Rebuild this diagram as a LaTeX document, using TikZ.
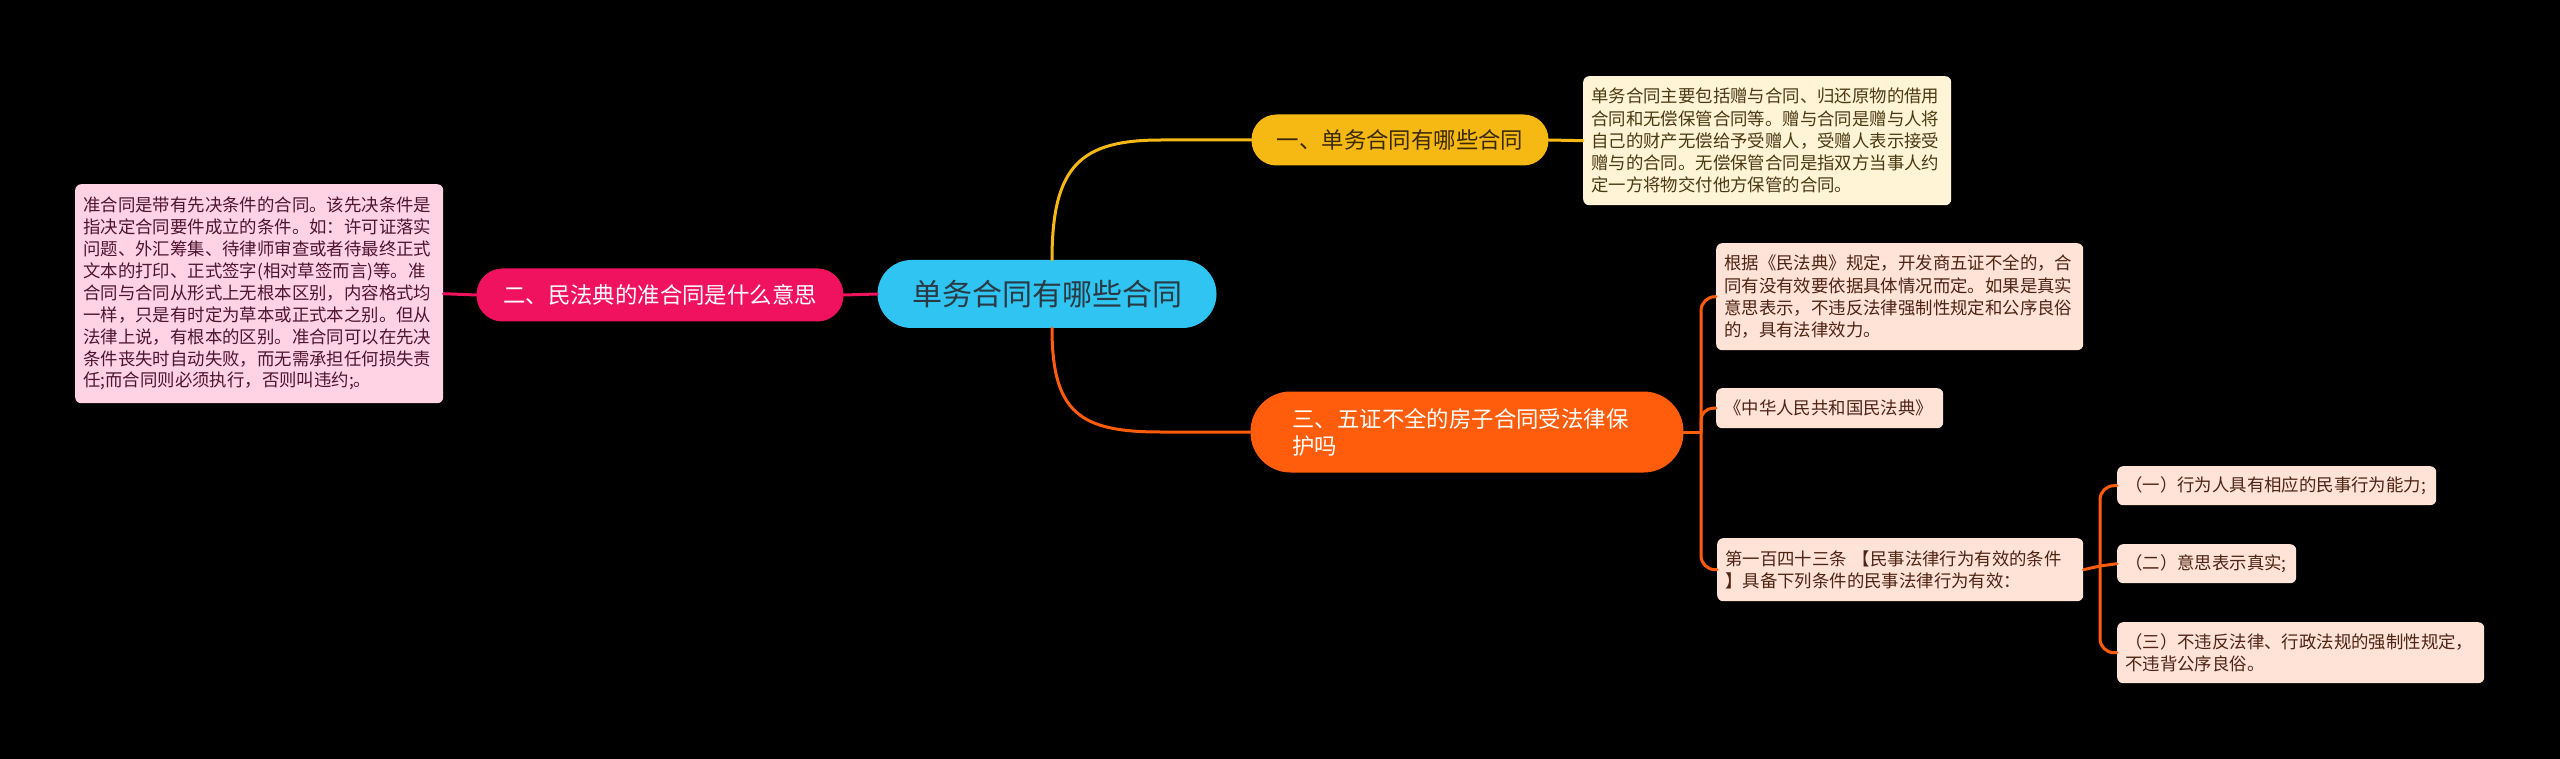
\documentclass[tikz,border=0pt]{standalone}
\usepackage{fontspec}
\setmainfont{Noto Sans CJK SC}
\definecolor{rootfill}{HTML}{2FC4F2}
\definecolor{rootText}{HTML}{2A3A44}
\definecolor{yel}{HTML}{F6B914}
\definecolor{yelText}{HTML}{3A2A05}
\definecolor{mag}{HTML}{F0115F}
\definecolor{org}{HTML}{FF5C0B}
\definecolor{leafY}{HTML}{FFF4D6}
\definecolor{leafYText}{HTML}{4A3A12}
\definecolor{leafP}{HTML}{FFD3E3}
\definecolor{leafPText}{HTML}{4E1530}
\definecolor{leafO}{HTML}{FFE3D6}
\definecolor{leafOText}{HTML}{4E2414}
\tikzset{
  branch/.style={inner sep=0pt, align=center, font=\fontsize{22.4}{27}\selectfont},
  leafbox/.style={anchor=north west, rounded corners=6pt, inner xsep=8pt, inner ysep=3pt,
    align=left, font=\fontsize{17.4}{22.2}\selectfont},
  conn/.style={line width=3pt, line cap=round}
}
\begin{document}
\begin{tikzpicture}[x=1pt,y=-1pt]
\useasboundingbox (0,0) rectangle (2560,759);
\fill[black] (0,0) rectangle (2560,759);

% nodes
\node[branch, fill=rootfill, text=rootText, minimum width=339pt, minimum height=68pt,
  rounded corners=34pt, font=\fontsize{30}{36}\selectfont] (root) at (1047,294) {单务合同有哪些合同};
\node[branch, fill=yel, text=yelText, minimum width=297pt, minimum height=51pt,
  rounded corners=25pt] (b1) at (1400,140) {一、单务合同有哪些合同};
\node[branch, fill=mag, text=white, minimum width=367pt, minimum height=53pt,
  rounded corners=26pt] (b2) at (660,295) {二、民法典的准合同是什么意思};
\node[branch, fill=org, text=white, minimum width=433pt, minimum height=81pt,
  rounded corners=40pt, align=left, text width=349pt, inner xsep=42pt] (b3) at (1467,432)
  {三、五证不全的房子合同受法律保\\护吗};

\node[leafbox, fill=leafY, text=leafYText, text width=352pt, minimum height=129pt] (l1) at (1583,76)
 {单务合同主要包括赠与合同、归还原物的借用\\合同和无偿保管合同等。赠与合同是赠与人将\\自己的财产无偿给予受赠人，受赠人表示接受\\赠与的合同。无偿保管合同是指双方当事人约\\定一方将物交付他方保管的合同。};

\node[leafbox, fill=leafP, text=leafPText, text width=352pt, minimum height=219pt,
  font=\fontsize{17.4}{21.9}\selectfont] (l2) at (75,184)
 {准合同是带有先决条件的合同。该先决条件是\\指决定合同要件成立的条件。如：许可证落实\\问题、外汇筹集、待律师审查或者待最终正式\\文本的打印、正式签字(相对草签而言)等。准\\合同与合同从形式上无根本区别，内容格式均\\一样，只是有时定为草本或正式本之别。但从\\法律上说，有根本的区别。准合同可以在先决\\条件丧失时自动失败，而无需承担任何损失责\\任;而合同则必须执行，否则叫违约;。};

\node[leafbox, fill=leafO, text=leafOText, text width=351pt, minimum height=107pt] (l3a) at (1716,243)
 {根据《民法典》规定，开发商五证不全的，合\\同有没有效要依据具体情况而定。如果是真实\\意思表示，不违反法律强制性规定和公序良俗\\的，具有法律效力。};

\node[leafbox, fill=leafO, text=leafOText, text width=211pt, minimum height=40pt] (l3b) at (1716,388)
 {《中华人民共和国民法典》};

\node[leafbox, fill=leafO, text=leafOText, text width=350pt, minimum height=63pt] (l3c) at (1717,538)
 {第一百四十三条 【民事法律行为有效的条件\\】具备下列条件的民事法律行为有效：};

\node[leafbox, fill=leafO, text=leafOText, text width=303pt, minimum height=39pt] (c1) at (2117,466)
 {（一）行为人具有相应的民事行为能力;};
\node[leafbox, fill=leafO, text=leafOText, text width=163pt, minimum height=39pt] (c2) at (2117,544)
 {（二）意思表示真实;};
\node[leafbox, fill=leafO, text=leafOText, text width=351pt, minimum height=61pt] (c3) at (2117,622)
 {（三）不违反法律、行政法规的强制性规定，\\不违背公序良俗。};

% connectors
\draw[conn, draw=yel] ([xshift=5pt]root.north) .. controls +(0,-95) and +(-80,0) .. ([xshift=-90pt]b1.west) -- (b1.west);
\draw[conn, draw=org] ([xshift=5pt]root.south) .. controls +(0,85) and +(-80,0) .. ([xshift=-90pt]b3.west) -- (b3.west);
\draw[conn, draw=mag] (root.west) -- (b2.east);
\draw[conn, draw=mag] (b2.west) -- (l2.east);
\draw[conn, draw=yel] (b1.east) -- (l1.west);

\coordinate (s3) at (1701,432);
\draw[conn, draw=org] (b3.east) -- (s3);
\draw[conn, draw=org, rounded corners=14pt] (s3) |- (l3a.west);
\draw[conn, draw=org, rounded corners=12pt] (s3) |- (l3b.west);
\draw[conn, draw=org, rounded corners=14pt] (s3) |- (l3c.west);

\coordinate (s4) at (2100,566);
\draw[conn, draw=org] (l3c.east) -- (s4);
\draw[conn, draw=org, rounded corners=14pt] (s4) |- (c1.west);
\draw[conn, draw=org] (s4) -- (c2.west);
\draw[conn, draw=org, rounded corners=14pt] (s4) |- (c3.west);
\end{tikzpicture}
\end{document}
